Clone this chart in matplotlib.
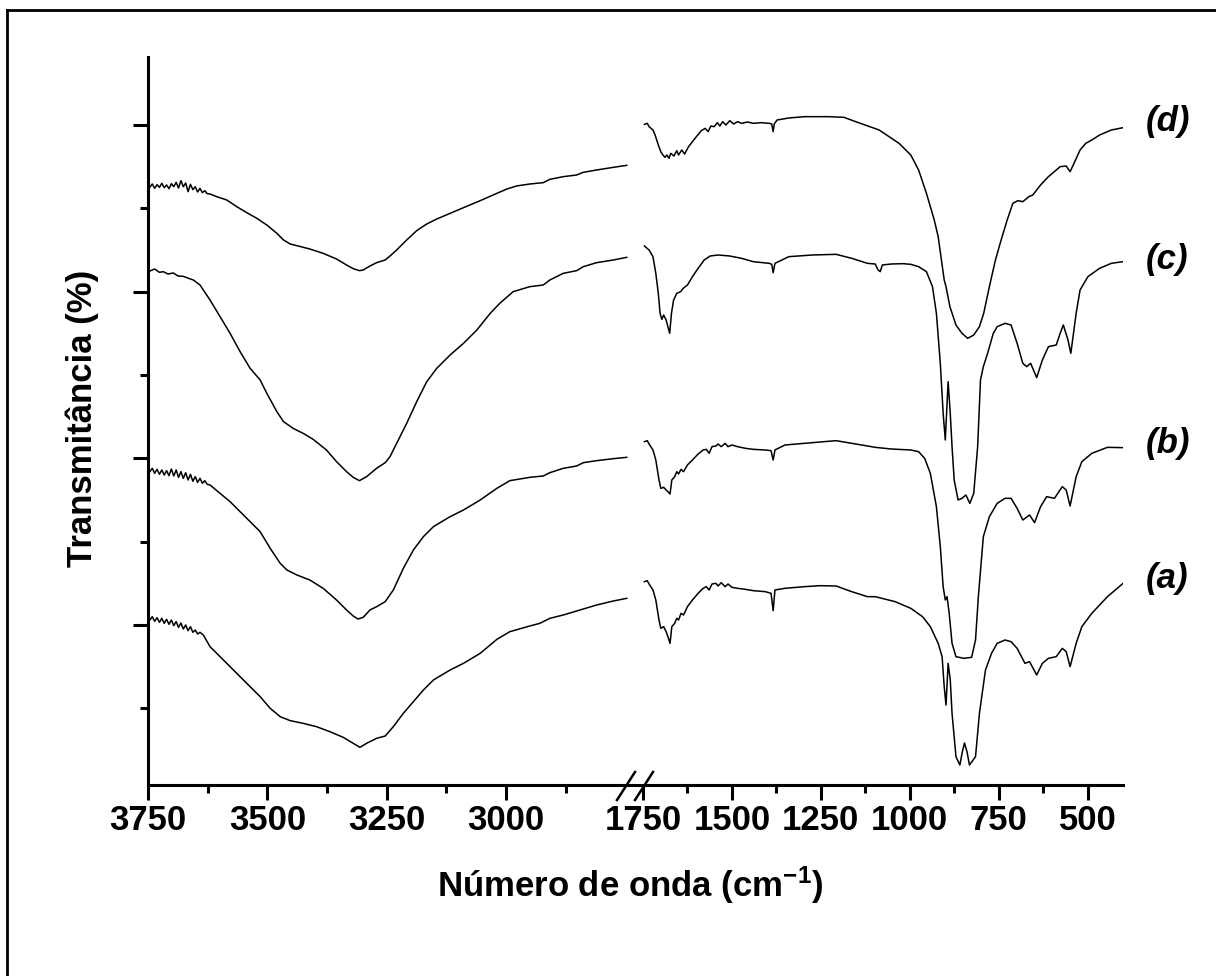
import matplotlib
matplotlib.use('Agg')
import matplotlib.pyplot as plt
from matplotlib.lines import Line2D

plt.rcParams['font.family'] = ['Liberation Sans Narrow', 'Liberation Sans', 'DejaVu Sans']
plt.rcParams['font.weight'] = 'bold'
plt.rcParams['mathtext.fontset'] = 'custom'
plt.rcParams['mathtext.rm'] = 'Liberation Sans:bold'
plt.rcParams['mathtext.default'] = 'rm'

# ---- data (wavenumber cm-1, transmittance in arbitrary offset units)
# spectrum (d)
d_hi_wn = [3746, 3741, 3736, 3731, 3726, 3721, 3716, 3711, 3706, 3701, 3696, 3691, 3686, 3681,
           3676, 3671, 3666, 3661, 3656, 3651, 3646, 3641, 3636, 3631, 3626, 3620,
           3606, 3585, 3564, 3543, 3522, 3501, 3480, 3466, 3452, 3438, 3411, 3383, 3355, 3334,
           3320, 3307, 3299, 3285, 3271, 3253, 3243, 3229, 3208, 3187, 3166, 3145, 3117, 3089,
           3054, 3019, 2998, 2978, 2950, 2922, 2908, 2880, 2852, 2838, 2810, 2775, 2747]
d_hi_t = [36.28, 36.46, 36.20, 36.42, 36.26, 36.50, 36.24, 36.40, 36.18, 36.48, 36.30, 36.56,
          36.22, 36.66, 36.30, 36.52, 36.00, 36.44, 36.12, 36.30, 35.98, 36.20, 35.94, 36.06,
          35.88, 35.86,
          35.70, 35.50, 35.10, 34.74, 34.40, 34.00, 33.50, 33.10, 32.86, 32.76, 32.56, 32.30,
          31.96, 31.60, 31.38, 31.26, 31.30, 31.54, 31.74, 31.90, 32.14, 32.50, 33.10, 33.66,
          34.06, 34.36, 34.70, 35.04, 35.46, 35.90, 36.16, 36.34, 36.46, 36.54, 36.74, 36.90,
          37.00, 37.16, 37.30, 37.46, 37.58]
d_lo_wn = [1746, 1738, 1733, 1722, 1716, 1707, 1700, 1694, 1688, 1683, 1677, 1672, 1663, 1655,
           1650, 1641, 1633, 1622, 1611, 1600, 1586, 1575, 1567, 1559, 1550, 1541, 1534, 1526,
           1517, 1506, 1495, 1484, 1473, 1456, 1440, 1418, 1395, 1388, 1384, 1381, 1373, 1340,
           1296, 1229, 1185, 1152, 1086, 1030, 997, 975, 953, 931, 920, 903, 898, 887, 870, 853,
           837, 820, 804, 792, 776, 759, 743, 726, 710, 696, 682, 665, 654, 632, 610, 588, 577,
           560, 549, 538, 521, 505, 488, 466, 433, 400]
d_lo_t = [40.04, 40.10, 39.90, 39.70, 39.40, 38.80, 38.40, 38.20, 38.06, 38.20, 38.00, 38.30,
          38.14, 38.46, 38.20, 38.50, 38.26, 38.70, 39.00, 39.30, 39.66, 39.80, 39.60, 39.94,
          39.90, 40.14, 39.94, 40.20, 40.00, 40.26, 40.06, 40.20, 40.10, 40.18, 40.10, 40.14,
          40.10, 40.06, 39.60, 40.06, 40.30, 40.42, 40.50, 40.50, 40.46, 40.20, 39.70, 38.90,
          38.20, 37.30, 35.90, 34.30, 33.30, 30.70, 30.30, 29.10, 28.00, 27.50, 27.20, 27.40,
          27.90, 28.70, 30.30, 31.90, 33.10, 34.30, 35.30, 35.46, 35.40, 35.70, 35.80, 36.40,
          36.90, 37.30, 37.50, 37.54, 37.20, 37.70, 38.50, 38.90, 39.10, 39.40, 39.70, 39.84]

# spectrum (c)
c_hi_wn = [3746, 3736, 3726, 3718, 3708, 3697, 3687, 3676, 3665, 3655, 3641, 3620, 3599, 3578,
           3557, 3536, 3515, 3501, 3480, 3466, 3446, 3425, 3404, 3376, 3355, 3334, 3320, 3307,
           3292, 3271, 3253, 3243, 3229, 3208, 3187, 3166, 3145, 3117, 3089, 3061, 3033, 3013,
           2985, 2950, 2922, 2908, 2880, 2852, 2838, 2810, 2775, 2747]
c_hi_t = [31.24, 31.36, 31.16, 31.20, 31.06, 31.12, 30.94, 30.92, 30.80, 30.70, 30.40, 29.50,
          28.50, 27.50, 26.40, 25.40, 24.70, 23.90, 22.80, 22.20, 21.80, 21.50, 21.14, 20.50,
          19.80, 19.20, 18.86, 18.66, 18.90, 19.40, 19.74, 20.10, 20.90, 22.10, 23.40, 24.60,
          25.40, 26.20, 26.90, 27.70, 28.70, 29.30, 30.00, 30.30, 30.40, 30.70, 31.10, 31.26,
          31.50, 31.74, 31.90, 32.06]
c_lo_wn = [1746, 1733, 1722, 1714, 1707, 1702, 1697, 1692, 1685, 1680, 1675, 1670, 1664, 1655,
           1644, 1637, 1625, 1611, 1595, 1578, 1561, 1539, 1506, 1473, 1440, 1395, 1388, 1384,
           1379, 1340, 1274, 1207, 1163, 1119, 1097, 1089, 1083, 1077, 1052, 1019, 997, 975, 953,
           936, 925, 914, 906, 900, 892, 886, 881, 875, 864, 853, 842, 831, 820, 809, 801, 793,
           781, 765, 754, 732, 715, 698, 682, 671, 660, 643, 627, 610, 588, 577, 568, 555, 547,
           532, 521, 499, 466, 433, 400]
c_lo_t = [32.74, 32.50, 32.10, 31.10, 29.90, 28.70, 28.34, 28.60, 28.30, 27.90, 27.50, 28.70,
          29.50, 29.90, 30.00, 30.20, 30.40, 30.90, 31.40, 31.90, 32.14, 32.20, 32.14, 32.00,
          31.80, 31.70, 31.64, 31.14, 31.70, 32.10, 32.20, 32.24, 32.00, 31.70, 31.66, 31.30,
          31.20, 31.60, 31.66, 31.68, 31.64, 31.50, 31.20, 30.30, 28.70, 25.70, 22.70, 21.10,
          24.60, 22.70, 20.70, 18.70, 17.50, 17.60, 17.80, 17.30, 17.90, 20.70, 24.70, 25.50,
          26.30, 27.50, 27.90, 28.10, 28.00, 26.90, 25.70, 25.50, 25.70, 24.84, 25.90, 26.70,
          26.80, 27.50, 28.00, 27.10, 26.30, 28.70, 30.10, 30.90, 31.40, 31.70, 31.80]

# spectrum (b)
b_hi_wn = [3746, 3741, 3736, 3731, 3726, 3721, 3716, 3711, 3706, 3701, 3696, 3691, 3686, 3681,
           3676, 3671, 3666, 3661, 3656, 3651, 3646, 3641, 3636, 3631, 3626, 3620,
           3599, 3578, 3557, 3536, 3515, 3494, 3473, 3459, 3438, 3411, 3383, 3355, 3334, 3320,
           3310, 3299, 3285, 3271, 3253, 3236, 3215, 3194, 3173, 3152, 3117, 3089, 3054, 3019,
           2992, 2950, 2922, 2908, 2880, 2852, 2838, 2810, 2775, 2747]
b_hi_t = [19.20, 19.40, 19.10, 19.34, 19.04, 19.30, 19.00, 19.26, 18.96, 19.36, 18.94, 19.30,
          18.86, 19.20, 18.80, 19.14, 18.70, 19.04, 18.62, 18.90, 18.56, 18.80, 18.50, 18.66,
          18.44, 18.40,
          17.90, 17.40, 16.80, 16.20, 15.60, 14.60, 13.70, 13.30, 13.00, 12.70, 12.20, 11.50,
          10.90, 10.54, 10.36, 10.46, 10.90, 11.10, 11.40, 12.10, 13.40, 14.50, 15.30, 15.90,
          16.50, 16.90, 17.50, 18.20, 18.66, 18.86, 18.94, 19.14, 19.40, 19.54, 19.74, 19.86,
          19.98, 20.06]
b_lo_wn = [1746, 1738, 1733, 1722, 1714, 1705, 1700, 1692, 1685, 1680, 1674, 1669, 1661, 1655,
           1650, 1643, 1636, 1625, 1611, 1595, 1581, 1572, 1564, 1556, 1545, 1539, 1530, 1519,
           1511, 1500, 1484, 1462, 1440, 1406, 1390, 1384, 1379, 1351, 1296, 1252, 1207, 1163,
           1135, 1097, 1052, 997, 975, 958, 942, 925, 914, 906, 900, 895, 889, 881, 870, 848, 826,
           815, 807, 793, 776, 754, 732, 715, 698, 682, 663, 649, 632, 615, 593, 571, 560, 549,
           532, 516, 488, 444, 400]
b_lo_t = [21.00, 21.06, 20.86, 20.50, 19.90, 18.70, 18.20, 18.26, 18.10, 18.00, 17.86, 18.70,
          18.90, 19.20, 19.06, 19.34, 19.20, 19.60, 19.90, 20.26, 20.50, 20.54, 20.30, 20.70,
          20.74, 20.86, 20.70, 20.90, 20.70, 20.80, 20.70, 20.60, 20.54, 20.50, 20.46, 19.90,
          20.50, 20.80, 20.90, 20.98, 21.06, 20.90, 20.80, 20.66, 20.56, 20.50, 20.40, 20.00,
          19.10, 17.10, 14.70, 12.30, 11.50, 11.70, 10.70, 8.90, 8.10, 8.00, 8.06, 9.10, 11.70,
          15.30, 16.50, 17.30, 17.60, 17.60, 17.00, 16.30, 16.60, 16.14, 17.10, 17.70, 17.60,
          18.30, 18.10, 17.14, 18.90, 19.80, 20.30, 20.66, 20.64]

# spectrum (a)
a_hi_wn = [3746, 3741, 3736, 3731, 3726, 3721, 3716, 3711, 3706, 3701, 3696, 3691, 3686, 3681,
           3676, 3671, 3666, 3661, 3656, 3651, 3646, 3641, 3634,
           3620, 3599, 3578, 3557, 3536, 3515, 3494, 3473, 3452, 3425, 3397, 3369, 3341, 3320,
           3306, 3292, 3271, 3253, 3236, 3215, 3194, 3173, 3152, 3117, 3089, 3054, 3019, 2992,
           2950, 2929, 2908, 2880, 2845, 2810, 2775, 2747]
a_hi_t = [10.30, 10.50, 10.22, 10.44, 10.16, 10.40, 10.10, 10.34, 10.04, 10.30, 9.96, 10.20,
          9.86, 10.12, 9.76, 10.00, 9.66, 9.90, 9.56, 9.70, 9.46, 9.56, 9.40,
          8.70, 8.10, 7.50, 6.90, 6.30, 5.70, 5.00, 4.50, 4.26, 4.10, 3.90, 3.60, 3.26, 2.90,
          2.66, 2.90, 3.20, 3.34, 3.90, 4.70, 5.40, 6.10, 6.70, 7.30, 7.70, 8.30, 9.14, 9.60,
          9.94, 10.10, 10.40, 10.60, 10.90, 11.20, 11.44, 11.60]
a_lo_wn = [1746, 1738, 1733, 1722, 1714, 1705, 1700, 1692, 1685, 1680, 1674, 1669, 1661, 1655,
           1650, 1643, 1636, 1625, 1611, 1595, 1581, 1572, 1564, 1556, 1545, 1539, 1530, 1519,
           1511, 1500, 1484, 1462, 1440, 1406, 1390, 1384, 1379, 1351, 1296, 1252, 1207, 1163,
           1119, 1097, 1041, 997, 964, 942, 920, 909, 903, 898, 892, 886, 881, 870, 859, 852, 846,
           839, 832, 815, 804, 787, 770, 754, 732, 715, 698, 676, 663, 643, 627, 610, 588, 571,
           560, 549, 532, 516, 488, 444, 400]
a_lo_t = [12.60, 12.66, 12.46, 12.10, 11.50, 10.30, 9.80, 9.90, 9.60, 9.30, 8.90, 9.90, 10.10,
          10.40, 10.30, 10.70, 10.60, 11.10, 11.50, 11.90, 12.20, 12.30, 12.10, 12.46, 12.50,
          12.34, 12.54, 12.30, 12.46, 12.26, 12.20, 12.14, 12.06, 12.00, 11.90, 10.86, 12.10,
          12.20, 12.30, 12.36, 12.34, 12.00, 11.70, 11.70, 11.40, 11.00, 10.50, 9.90, 8.90,
          8.10, 6.30, 5.20, 7.70, 6.70, 4.70, 2.10, 1.60, 2.40, 2.92, 2.40, 1.60, 2.10, 4.70,
          7.30, 8.30, 8.90, 9.10, 9.00, 8.60, 7.70, 7.80, 7.00, 7.70, 8.00, 8.10, 8.60, 8.40,
          7.50, 8.90, 9.90, 10.70, 11.70, 12.50]

labels = ['(a)', '(b)', '(c)', '(d)']
label_t = [12.8, 20.9, 31.9, 40.2]

hi_ticks = [3750, 3500, 3250, 3000]
hi_minor = [3625, 3375, 3125, 2875]
lo_ticks = [1750, 1500, 1250, 1000, 750, 500]
lo_minor = [1625, 1375, 1125, 875, 625]

fig = plt.figure(figsize=(12.16, 9.76), dpi=100)
axl = fig.add_axes([0.1217, 0.1957, 0.3988, 0.7459])
axr = fig.add_axes([0.5206, 0.1957, 0.4030, 0.7459])

for wn, t in [(a_hi_wn, a_hi_t), (b_hi_wn, b_hi_t), (c_hi_wn, c_hi_t), (d_hi_wn, d_hi_t)]:
    axl.plot(wn, t, color='black', lw=1.1)
for wn, t in [(a_lo_wn, a_lo_t), (b_lo_wn, b_lo_t), (c_lo_wn, c_lo_t), (d_lo_wn, d_lo_t)]:
    axr.plot(wn, t, color='black', lw=1.1)

axl.set_xlim(3750, 2734)
axr.set_xlim(1778, 400)
for ax in (axl, axr):
    ax.set_ylim(0.4, 44.08)
    ax.spines['top'].set_visible(False)
    ax.spines['right'].set_visible(False)
    ax.spines['bottom'].set_linewidth(2.2)
    ax.spines['left'].set_linewidth(2.2)
    ax.tick_params(which='major', length=10.5, width=2.2, direction='out', labelsize=25, pad=3)
    ax.tick_params(which='minor', length=5.5, width=2.2, direction='out')
    ax.patch.set_alpha(0)
axr.spines['left'].set_visible(False)
axr.tick_params(which='both', left=False, labelleft=False)

axl.set_xticks(hi_ticks)
axl.set_xticks(hi_minor, minor=True)
axr.set_xticks(lo_ticks)
axr.set_xticks(lo_minor, minor=True)
axl.set_yticks([10, 20, 30, 40])
axl.set_yticks([5, 15, 25, 35], minor=True)
axl.set_yticklabels([])
for lab in axl.get_xticklabels() + axr.get_xticklabels():
    lab.set_fontweight('bold')

for lab, t in zip(labels, label_t):
    axr.text(1.047, t, lab, transform=axr.get_yaxis_transform(), fontsize=25,
             fontweight='bold', fontstyle='italic', va='center', ha='left')

# break marks
for x0 in (617, 635):
    fig.add_artist(Line2D([x0 / 1216, (x0 + 18) / 1216], [1 - 800 / 976, 1 - 772 / 976],
                          color='black', lw=1.8, transform=fig.transFigure))

fig.text(82 / 1216, 1 - 418 / 976, 'Transmitância (%)', rotation=90, fontsize=25,
         fontweight='bold', ha='center', va='center')
fig.text(630 / 1216, 1 - 885 / 976, 'Número de onda (cm$^{-1}$)', fontsize=25,
         fontweight='bold', ha='center', va='center')

# outer frame
fig.add_artist(Line2D([7 / 1216, 7 / 1216], [0, 1 - 10 / 976], color='black', lw=2,
                      transform=fig.transFigure))
fig.add_artist(Line2D([7 / 1216, 1], [1 - 10 / 976, 1 - 10 / 976], color='black', lw=2,
                      transform=fig.transFigure))

fig.savefig('out.png', dpi=100)
